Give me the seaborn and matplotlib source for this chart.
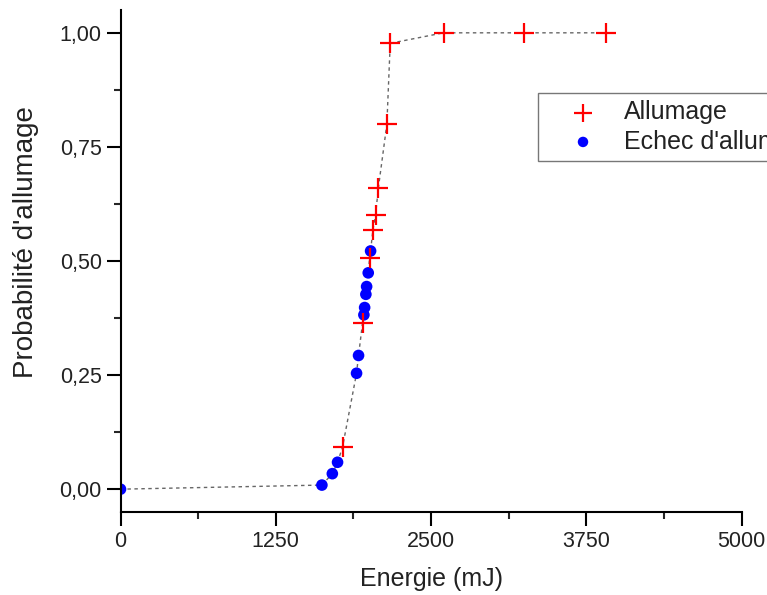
import numpy as np
import pandas as pd
import matplotlib
matplotlib.use("Agg")
import matplotlib.pyplot as plt
import seaborn as sns
from matplotlib.ticker import FuncFormatter, MultipleLocator, AutoMinorLocator

# values
allumage_energie = [1787, 1948, 2005, 2032, 2053, 2075, 2144, 2171, 2600, 3247, 3905]
allumage_proba = [0.092, 0.364, 0.506, 0.569, 0.601, 0.659, 0.800, 0.977, 1.0, 1.0, 1.0]

echec_energie = [0, 1621, 1705, 1747, 1900, 1916, 1959, 1965, 1975, 1981, 1994, 2013]
echec_proba = [0.0, 0.009, 0.034, 0.059, 0.254, 0.293, 0.382, 0.398, 0.427, 0.444, 0.474, 0.522]

allumage = pd.DataFrame({"Energie": allumage_energie, "Proba": allumage_proba})
echec = pd.DataFrame({"Energie": echec_energie, "Proba": echec_proba})
courbe = pd.concat([allumage, echec]).sort_values(["Proba", "Energie"]).reset_index(drop=True)

sns.set_style("ticks")
plt.rcParams["font.family"] = ["Liberation Sans", "DejaVu Sans"]

fig = plt.figure(figsize=(7.67, 5.95), dpi=100)
ax = fig.add_axes([120.5 / 767, 1 - 512 / 595, (741.7 - 120.5) / 767, (512 - 10) / 595])

sns.lineplot(data=courbe, x="Energie", y="Proba", sort=False, estimator=None,
             color="#666666", linewidth=1.0, linestyle=(0, (2.5, 2.5)), ax=ax, zorder=1)
sns.scatterplot(data=echec, x="Energie", y="Proba", marker="o", color="#0000ff",
                s=70, edgecolor="none", ax=ax, zorder=2, label="Echec d'allumage")
sns.scatterplot(data=allumage, x="Energie", y="Proba", marker="+", color="#ff0000",
                s=200, linewidth=1.6, ax=ax, zorder=3, label="Allumage")

ax.set_xlim(0, 5000)
ax.set_ylim(-0.05, 1.05)
ax.xaxis.set_major_locator(MultipleLocator(1250))
ax.xaxis.set_minor_locator(AutoMinorLocator(2))
ax.yaxis.set_major_locator(MultipleLocator(0.25))
ax.yaxis.set_minor_locator(AutoMinorLocator(2))
ax.yaxis.set_major_formatter(FuncFormatter(lambda v, p: f"{v:.2f}".replace(".", ",")))
ax.xaxis.set_major_formatter(FuncFormatter(lambda v, p: f"{v:.0f}"))

sns.despine(ax=ax)
for s in ["left", "bottom"]:
    ax.spines[s].set_linewidth(1.5)
    ax.spines[s].set_color("black")
ax.tick_params(which="major", length=10, width=1.5, labelsize=15.5, colors="black",
               labelcolor="#222222", direction="out")
ax.tick_params(which="minor", length=5, width=1.5, direction="out")

ax.set_xlabel("Energie (mJ)", fontsize=18, color="#222222")
ax.set_ylabel("Probabilité d'allumage", fontsize=20, color="#222222")
ax.xaxis.set_label_coords(0.5, -0.11)
ax.yaxis.set_label_coords(-0.132, 0.538)

h, l = ax.get_legend_handles_labels()
order = [l.index("Allumage"), l.index("Echec d'allumage")]
leg = ax.legend([h[i] for i in order], [l[i] for i in order],
                loc="upper left", bbox_to_anchor=(538 / 767, 1 - 93 / 595),
                bbox_transform=fig.transFigure, borderaxespad=0, fontsize=18,
                frameon=True, fancybox=False, edgecolor="#555555", borderpad=0.3,
                handlelength=3.0, handletextpad=0.15, labelspacing=0.2,
                markerscale=0.9)
leg.get_frame().set_linewidth(1.0)
for t in leg.get_texts():
    t.set_color("#222222")

fig.savefig("out.png", dpi=100)
